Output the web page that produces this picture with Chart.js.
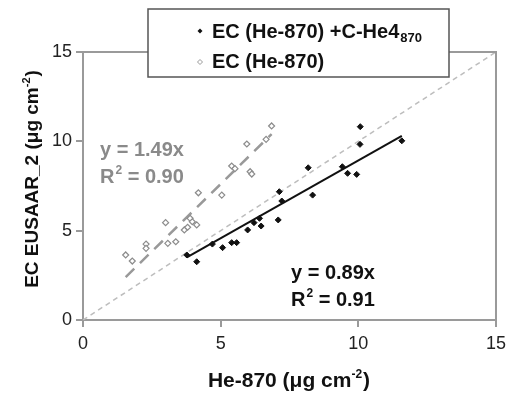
<!DOCTYPE html>
<html><head><meta charset="utf-8">
<script src="https://cdn.jsdelivr.net/npm/chart.js@4.4.1/dist/chart.umd.min.js"></script>
<style>html,body{margin:0;padding:0;background:#fff}</style>
</head><body>
<canvas id="c" width="512" height="396"></canvas>
<script>
// He-870 (x) vs EC EUSAAR_2 (y)
const blackX = [3.77,4.13,4.70,5.07,5.40,5.58,5.98,6.21,6.41,6.47,7.09,7.13,7.22,8.18,8.34,9.42,9.61,9.94,10.06,10.07,11.58];
const blackY = [3.64,3.26,4.25,4.05,4.33,4.33,5.04,5.45,5.69,5.26,5.60,7.18,6.66,8.52,6.99,8.58,8.21,8.15,9.83,10.82,10.03];
const greyX  = [1.55,1.79,2.29,2.29,3.00,3.08,3.37,3.68,3.80,3.89,3.97,4.13,4.19,5.04,5.40,5.52,6.07,6.13,5.95,6.65,6.85];
const greyY  = [3.64,3.30,4.25,4.01,5.45,4.29,4.38,5.04,5.19,5.69,5.50,5.32,7.12,6.99,8.62,8.47,8.30,8.17,9.85,10.11,10.86];
const blackFitX = [3.77,11.58];
const blackFitY = [3.50,10.30];
const greyFitX  = [1.55,6.85];
const greyFitY  = [2.40,10.40];
const oneToOneX = [0,15];
const oneToOneY = [0,15];
const axisTicks = [0,5,10,15];
const legendLabels = ["EC (He-870) +C-He4", "EC (He-870)"];
const legendSub = "870";
const greyEq = ["y = 1.49x", "0.90"];
const blackEq = ["y = 0.89x", "0.91"];
const xTitle = "He-870 (μg cm";
const yTitle = "EC EUSAAR_2 (μg cm";

const pts = (xs, ys) => xs.map((x, i) => ({x, y: ys[i]}));
const FONT = '"Liberation Sans", Arial, sans-serif';
const AXIS = '#9a9a9a';

const overlay = {
  id: 'overlay',
  afterDraw(chart) {
    const ctx = chart.ctx, ca = chart.chartArea;
    ctx.save();
    // top and right border
    ctx.strokeStyle = AXIS; ctx.lineWidth = 2;
    ctx.beginPath();
    ctx.moveTo(ca.left, ca.top); ctx.lineTo(ca.right, ca.top); ctx.lineTo(ca.right, ca.bottom);
    ctx.stroke();

    // equations
    const drawEq = (lines, x, y1, y2, color) => {
      ctx.fillStyle = color;
      ctx.font = 'bold 20px ' + FONT;
      ctx.textBaseline = 'alphabetic'; ctx.textAlign = 'left';
      ctx.fillText(lines[0], x, y1);
      ctx.fillText('R', x, y2);
      let w = ctx.measureText('R').width;
      ctx.font = 'bold 12px ' + FONT;
      ctx.fillText('2', x + w + 1, y2 - 9);
      const w2 = ctx.measureText('2').width;
      ctx.font = 'bold 20px ' + FONT;
      ctx.fillText(' = ' + lines[1], x + w + w2 + 1, y2);
    };
    drawEq(greyEq, 100, 156, 183, '#8a8a8a');
    drawEq(blackEq, 291, 279, 306, '#111');

    // legend
    ctx.fillStyle = '#fff';
    ctx.fillRect(148, 9, 301, 68);
    ctx.strokeStyle = '#555'; ctx.lineWidth = 1.5;
    ctx.strokeRect(148, 9, 301, 68);
    ctx.fillStyle = '#111';
    ctx.beginPath(); ctx.moveTo(200, 28.5); ctx.lineTo(202.5, 31); ctx.lineTo(200, 33.5); ctx.lineTo(197.5, 31); ctx.closePath(); ctx.fill();
    ctx.strokeStyle = '#999'; ctx.lineWidth = 1;
    ctx.beginPath(); ctx.moveTo(200, 59.5); ctx.lineTo(202.5, 62); ctx.lineTo(200, 64.5); ctx.lineTo(197.5, 62); ctx.closePath(); ctx.stroke();
    ctx.fillStyle = '#111';
    ctx.font = 'bold 20px ' + FONT; ctx.textAlign = 'left';
    ctx.fillText(legendLabels[0], 212, 38);
    const lw = ctx.measureText(legendLabels[0]).width;
    ctx.font = 'bold 13px ' + FONT;
    ctx.fillText(legendSub, 213 + lw, 42);
    ctx.font = 'bold 20px ' + FONT;
    ctx.fillText(legendLabels[1], 212, 68);

    // x title
    ctx.fillStyle = '#111';
    ctx.font = 'bold 21px ' + FONT;
    const xt1 = ctx.measureText(xTitle).width;
    const xp = ctx.measureText(')').width;
    ctx.font = 'bold 12px ' + FONT;
    const xs = ctx.measureText('-2').width;
    const tot = xt1 + xs + xp + 1;
    let x0 = 289 - tot / 2;
    ctx.font = 'bold 21px ' + FONT;
    ctx.fillText(xTitle, x0, 387);
    ctx.fillText(')', x0 + xt1 + xs + 1, 387);
    ctx.font = 'bold 12px ' + FONT;
    ctx.fillText('-2', x0 + xt1, 378);

    // y title
    ctx.translate(38, 179);
    ctx.rotate(-Math.PI / 2);
    ctx.font = 'bold 19px ' + FONT;
    const yt1 = ctx.measureText(yTitle).width;
    const yp = ctx.measureText(')').width;
    ctx.font = 'bold 11px ' + FONT;
    const ys = ctx.measureText('-2').width;
    const ytot = yt1 + ys + yp + 1;
    let y0 = -ytot / 2;
    ctx.font = 'bold 19px ' + FONT;
    ctx.fillText(yTitle, y0, 0);
    ctx.fillText(')', y0 + yt1 + ys + 1, 0);
    ctx.font = 'bold 11px ' + FONT;
    ctx.fillText('-2', y0 + yt1, -8);
    ctx.restore();
  }
};

new Chart(document.getElementById('c'), {
  type: 'scatter',
  data: {
    datasets: [
      { label: legendLabels[0], data: pts(blackX, blackY), pointStyle: 'rectRot', pointRadius: 3,
        backgroundColor: '#111', borderColor: '#111', borderWidth: 1 },
      { label: legendLabels[1], data: pts(greyX, greyY), pointStyle: 'rectRot', pointRadius: 3,
        backgroundColor: '#fff', borderColor: '#8c8c8c', borderWidth: 1.2 },
      { type: 'line', data: pts(blackFitX, blackFitY), borderColor: '#111', borderWidth: 2,
        pointRadius: 0, fill: false },
      { type: 'line', data: pts(greyFitX, greyFitY), borderColor: '#999', borderWidth: 2.5,
        borderDash: [12, 8], pointRadius: 0, fill: false },
      { type: 'line', data: pts(oneToOneX, oneToOneY), borderColor: '#bdbdbd', borderWidth: 1.5,
        borderDash: [5, 4], pointRadius: 0, fill: false }
    ]
  },
  options: {
    responsive: false, animation: false, devicePixelRatio: 1,
    layout: { padding: { top: 52, right: 16, left: 0, bottom: 0 } },
    plugins: { legend: { display: false }, tooltip: { enabled: false } },
    scales: {
      x: {
        type: 'linear', min: 0, max: 15,
        afterFit: s => { s.height = 76; },
        afterBuildTicks: s => { s.ticks = axisTicks.map(v => ({value: v})); },
        border: { color: AXIS, width: 2 },
        grid: { drawOnChartArea: false, color: AXIS, lineWidth: 2, tickLength: 7 },
        ticks: { color: '#222', font: { family: FONT, size: 18 }, padding: 6 }
      },
      y: {
        type: 'linear', min: 0, max: 15,
        afterFit: s => { s.width = 83; },
        afterBuildTicks: s => { s.ticks = axisTicks.map(v => ({value: v})); },
        border: { color: AXIS, width: 2 },
        grid: { drawOnChartArea: false, color: AXIS, lineWidth: 2, tickLength: 7 },
        ticks: { color: '#222', font: { family: FONT, size: 18 }, padding: 4 }
      }
    }
  },
  plugins: [overlay]
});
</script>
</body></html>
